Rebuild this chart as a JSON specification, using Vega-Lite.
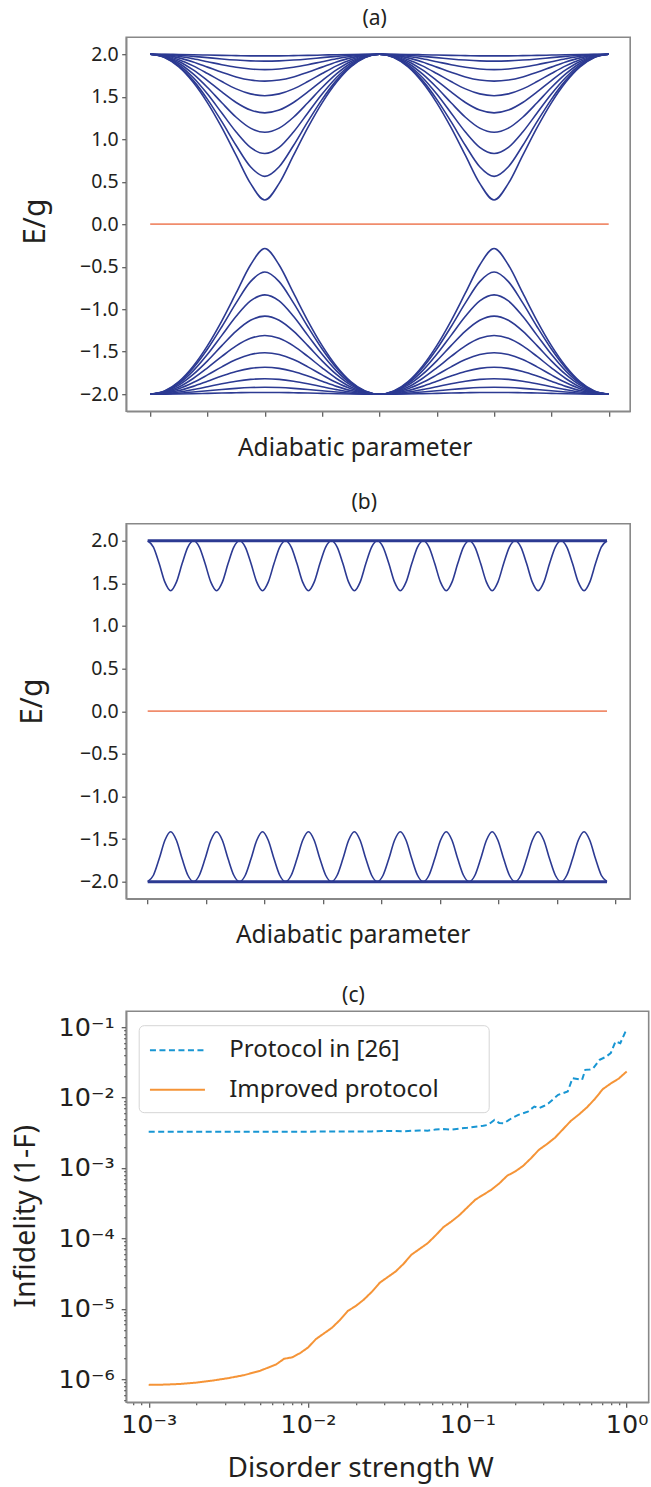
{
"$schema":"https://vega.github.io/schema/vega-lite/v6.json",
"background":"white",
"padding":{"left":10.2,"top":7.2,"right":0,"bottom":0},
"bounds":"flush",
"spacing":112.5,
"config":{
"font":"Noto Sans",
"view":{"stroke":"#888888","strokeWidth":1.6},
"axis":{"grid":false,"domainColor":"#888888","domainWidth":1.6,"tickColor":"#555555","tickWidth":1.2,"labelColor":"#231f20","titleColor":"#231f20","labelFont":"Noto Sans","titleFont":"Noto Sans","titleFontWeight":"normal","labelFlush":false,"labelOverlap":false},
"title":{"font":"Noto Sans","fontWeight":"normal","color":"#231f20","fontSize":21}
},
"datasets":{
"a":[
{"c":1,"i":0,"E":2},{"c":1,"i":1,"E":1.999},{"c":1,"i":2,"E":1.997},{"c":1,"i":3,"E":1.994},{"c":1,"i":4,"E":1.99},{"c":1,"i":5,"E":1.986},{"c":1,"i":6,"E":1.983},{"c":1,"i":7,"E":1.98},{"c":1,"i":8,"E":1.98},{"c":1,"i":9,"E":1.98},{"c":1,"i":10,"E":1.983},{"c":1,"i":11,"E":1.986},{"c":1,"i":12,"E":1.99},{"c":1,"i":13,"E":1.994},{"c":1,"i":14,"E":1.997},{"c":1,"i":15,"E":1.999},{"c":1,"i":16,"E":2},{"c":1,"i":17,"E":1.999},{"c":1,"i":18,"E":1.997},{"c":1,"i":19,"E":1.994},{"c":1,"i":20,"E":1.99},{"c":1,"i":21,"E":1.986},{"c":1,"i":22,"E":1.983},{"c":1,"i":23,"E":1.98},{"c":1,"i":24,"E":1.98},{"c":1,"i":25,"E":1.98},{"c":1,"i":26,"E":1.983},{"c":1,"i":27,"E":1.986},{"c":1,"i":28,"E":1.99},{"c":1,"i":29,"E":1.994},{"c":1,"i":30,"E":1.997},{"c":1,"i":31,"E":1.999},{"c":1,"i":32,"E":2},
{"c":2,"i":0,"E":2},{"c":2,"i":1,"E":1.997},{"c":2,"i":2,"E":1.988},{"c":2,"i":3,"E":1.975},{"c":2,"i":4,"E":1.96},{"c":2,"i":5,"E":1.944},{"c":2,"i":6,"E":1.931},{"c":2,"i":7,"E":1.922},{"c":2,"i":8,"E":1.919},{"c":2,"i":9,"E":1.922},{"c":2,"i":10,"E":1.931},{"c":2,"i":11,"E":1.944},{"c":2,"i":12,"E":1.96},{"c":2,"i":13,"E":1.975},{"c":2,"i":14,"E":1.988},{"c":2,"i":15,"E":1.997},{"c":2,"i":16,"E":2},{"c":2,"i":17,"E":1.997},{"c":2,"i":18,"E":1.988},{"c":2,"i":19,"E":1.975},{"c":2,"i":20,"E":1.96},{"c":2,"i":21,"E":1.944},{"c":2,"i":22,"E":1.931},{"c":2,"i":23,"E":1.922},{"c":2,"i":24,"E":1.919},{"c":2,"i":25,"E":1.922},{"c":2,"i":26,"E":1.931},{"c":2,"i":27,"E":1.944},{"c":2,"i":28,"E":1.96},{"c":2,"i":29,"E":1.975},{"c":2,"i":30,"E":1.988},{"c":2,"i":31,"E":1.997},{"c":2,"i":32,"E":2},
{"c":3,"i":0,"E":2},{"c":3,"i":1,"E":1.993},{"c":3,"i":2,"E":1.975},{"c":3,"i":3,"E":1.946},{"c":3,"i":4,"E":1.912},{"c":3,"i":5,"E":1.877},{"c":3,"i":6,"E":1.847},{"c":3,"i":7,"E":1.826},{"c":3,"i":8,"E":1.819},{"c":3,"i":9,"E":1.826},{"c":3,"i":10,"E":1.847},{"c":3,"i":11,"E":1.877},{"c":3,"i":12,"E":1.912},{"c":3,"i":13,"E":1.946},{"c":3,"i":14,"E":1.975},{"c":3,"i":15,"E":1.993},{"c":3,"i":16,"E":2},{"c":3,"i":17,"E":1.993},{"c":3,"i":18,"E":1.975},{"c":3,"i":19,"E":1.946},{"c":3,"i":20,"E":1.912},{"c":3,"i":21,"E":1.877},{"c":3,"i":22,"E":1.847},{"c":3,"i":23,"E":1.826},{"c":3,"i":24,"E":1.819},{"c":3,"i":25,"E":1.826},{"c":3,"i":26,"E":1.847},{"c":3,"i":27,"E":1.877},{"c":3,"i":28,"E":1.912},{"c":3,"i":29,"E":1.946},{"c":3,"i":30,"E":1.975},{"c":3,"i":31,"E":1.993},{"c":3,"i":32,"E":2},
{"c":4,"i":0,"E":2},{"c":4,"i":1,"E":1.989},{"c":4,"i":2,"E":1.957},{"c":4,"i":3,"E":1.908},{"c":4,"i":4,"E":1.848},{"c":4,"i":5,"E":1.787},{"c":4,"i":6,"E":1.733},{"c":4,"i":7,"E":1.696},{"c":4,"i":8,"E":1.683},{"c":4,"i":9,"E":1.696},{"c":4,"i":10,"E":1.733},{"c":4,"i":11,"E":1.787},{"c":4,"i":12,"E":1.848},{"c":4,"i":13,"E":1.908},{"c":4,"i":14,"E":1.957},{"c":4,"i":15,"E":1.989},{"c":4,"i":16,"E":2},{"c":4,"i":17,"E":1.989},{"c":4,"i":18,"E":1.957},{"c":4,"i":19,"E":1.908},{"c":4,"i":20,"E":1.848},{"c":4,"i":21,"E":1.787},{"c":4,"i":22,"E":1.733},{"c":4,"i":23,"E":1.696},{"c":4,"i":24,"E":1.683},{"c":4,"i":25,"E":1.696},{"c":4,"i":26,"E":1.733},{"c":4,"i":27,"E":1.787},{"c":4,"i":28,"E":1.848},{"c":4,"i":29,"E":1.908},{"c":4,"i":30,"E":1.957},{"c":4,"i":31,"E":1.989},{"c":4,"i":32,"E":2},
{"c":5,"i":0,"E":2},{"c":5,"i":1,"E":1.984},{"c":5,"i":2,"E":1.936},{"c":5,"i":3,"E":1.863},{"c":5,"i":4,"E":1.773},{"c":5,"i":5,"E":1.678},{"c":5,"i":6,"E":1.592},{"c":5,"i":7,"E":1.533},{"c":5,"i":8,"E":1.512},{"c":5,"i":9,"E":1.533},{"c":5,"i":10,"E":1.592},{"c":5,"i":11,"E":1.678},{"c":5,"i":12,"E":1.773},{"c":5,"i":13,"E":1.863},{"c":5,"i":14,"E":1.936},{"c":5,"i":15,"E":1.984},{"c":5,"i":16,"E":2},{"c":5,"i":17,"E":1.984},{"c":5,"i":18,"E":1.936},{"c":5,"i":19,"E":1.863},{"c":5,"i":20,"E":1.773},{"c":5,"i":21,"E":1.678},{"c":5,"i":22,"E":1.592},{"c":5,"i":23,"E":1.533},{"c":5,"i":24,"E":1.512},{"c":5,"i":25,"E":1.533},{"c":5,"i":26,"E":1.592},{"c":5,"i":27,"E":1.678},{"c":5,"i":28,"E":1.773},{"c":5,"i":29,"E":1.863},{"c":5,"i":30,"E":1.936},{"c":5,"i":31,"E":1.984},{"c":5,"i":32,"E":2},
{"c":6,"i":0,"E":2},{"c":6,"i":1,"E":1.978},{"c":6,"i":2,"E":1.915},{"c":6,"i":3,"E":1.815},{"c":6,"i":4,"E":1.69},{"c":6,"i":5,"E":1.556},{"c":6,"i":6,"E":1.432},{"c":6,"i":7,"E":1.343},{"c":6,"i":8,"E":1.31},{"c":6,"i":9,"E":1.343},{"c":6,"i":10,"E":1.432},{"c":6,"i":11,"E":1.556},{"c":6,"i":12,"E":1.69},{"c":6,"i":13,"E":1.815},{"c":6,"i":14,"E":1.915},{"c":6,"i":15,"E":1.978},{"c":6,"i":16,"E":2},{"c":6,"i":17,"E":1.978},{"c":6,"i":18,"E":1.915},{"c":6,"i":19,"E":1.815},{"c":6,"i":20,"E":1.69},{"c":6,"i":21,"E":1.556},{"c":6,"i":22,"E":1.432},{"c":6,"i":23,"E":1.343},{"c":6,"i":24,"E":1.31},{"c":6,"i":25,"E":1.343},{"c":6,"i":26,"E":1.432},{"c":6,"i":27,"E":1.556},{"c":6,"i":28,"E":1.69},{"c":6,"i":29,"E":1.815},{"c":6,"i":30,"E":1.915},{"c":6,"i":31,"E":1.978},{"c":6,"i":32,"E":2},
{"c":7,"i":0,"E":2},{"c":7,"i":1,"E":1.973},{"c":7,"i":2,"E":1.894},{"c":7,"i":3,"E":1.768},{"c":7,"i":4,"E":1.608},{"c":7,"i":5,"E":1.429},{"c":7,"i":6,"E":1.258},{"c":7,"i":7,"E":1.13},{"c":7,"i":8,"E":1.081},{"c":7,"i":9,"E":1.13},{"c":7,"i":10,"E":1.258},{"c":7,"i":11,"E":1.429},{"c":7,"i":12,"E":1.608},{"c":7,"i":13,"E":1.768},{"c":7,"i":14,"E":1.894},{"c":7,"i":15,"E":1.973},{"c":7,"i":16,"E":2},{"c":7,"i":17,"E":1.973},{"c":7,"i":18,"E":1.894},{"c":7,"i":19,"E":1.768},{"c":7,"i":20,"E":1.608},{"c":7,"i":21,"E":1.429},{"c":7,"i":22,"E":1.258},{"c":7,"i":23,"E":1.13},{"c":7,"i":24,"E":1.081},{"c":7,"i":25,"E":1.13},{"c":7,"i":26,"E":1.258},{"c":7,"i":27,"E":1.429},{"c":7,"i":28,"E":1.608},{"c":7,"i":29,"E":1.768},{"c":7,"i":30,"E":1.894},{"c":7,"i":31,"E":1.973},{"c":7,"i":32,"E":2},
{"c":8,"i":0,"E":2},{"c":8,"i":1,"E":1.968},{"c":8,"i":2,"E":1.875},{"c":8,"i":3,"E":1.726},{"c":8,"i":4,"E":1.531},{"c":8,"i":5,"E":1.308},{"c":8,"i":6,"E":1.084},{"c":8,"i":7,"E":0.903},{"c":8,"i":8,"E":0.831},{"c":8,"i":9,"E":0.903},{"c":8,"i":10,"E":1.084},{"c":8,"i":11,"E":1.308},{"c":8,"i":12,"E":1.531},{"c":8,"i":13,"E":1.726},{"c":8,"i":14,"E":1.875},{"c":8,"i":15,"E":1.968},{"c":8,"i":16,"E":2},{"c":8,"i":17,"E":1.968},{"c":8,"i":18,"E":1.875},{"c":8,"i":19,"E":1.726},{"c":8,"i":20,"E":1.531},{"c":8,"i":21,"E":1.308},{"c":8,"i":22,"E":1.084},{"c":8,"i":23,"E":0.903},{"c":8,"i":24,"E":0.831},{"c":8,"i":25,"E":0.903},{"c":8,"i":26,"E":1.084},{"c":8,"i":27,"E":1.308},{"c":8,"i":28,"E":1.531},{"c":8,"i":29,"E":1.726},{"c":8,"i":30,"E":1.875},{"c":8,"i":31,"E":1.968},{"c":8,"i":32,"E":2},
{"c":9,"i":0,"E":2},{"c":9,"i":1,"E":1.965},{"c":9,"i":2,"E":1.86},{"c":9,"i":3,"E":1.692},{"c":9,"i":4,"E":1.469},{"c":9,"i":5,"E":1.206},{"c":9,"i":6,"E":0.926},{"c":9,"i":7,"E":0.676},{"c":9,"i":8,"E":0.563},{"c":9,"i":9,"E":0.676},{"c":9,"i":10,"E":0.926},{"c":9,"i":11,"E":1.206},{"c":9,"i":12,"E":1.469},{"c":9,"i":13,"E":1.692},{"c":9,"i":14,"E":1.86},{"c":9,"i":15,"E":1.965},{"c":9,"i":16,"E":2},{"c":9,"i":17,"E":1.965},{"c":9,"i":18,"E":1.86},{"c":9,"i":19,"E":1.692},{"c":9,"i":20,"E":1.469},{"c":9,"i":21,"E":1.206},{"c":9,"i":22,"E":0.926},{"c":9,"i":23,"E":0.676},{"c":9,"i":24,"E":0.563},{"c":9,"i":25,"E":0.676},{"c":9,"i":26,"E":0.926},{"c":9,"i":27,"E":1.206},{"c":9,"i":28,"E":1.469},{"c":9,"i":29,"E":1.692},{"c":9,"i":30,"E":1.86},{"c":9,"i":31,"E":1.965},{"c":9,"i":32,"E":2},
{"c":10,"i":0,"E":2},{"c":10,"i":1,"E":1.962},{"c":10,"i":2,"E":1.851},{"c":10,"i":3,"E":1.67},{"c":10,"i":4,"E":1.428},{"c":10,"i":5,"E":1.136},{"c":10,"i":6,"E":0.809},{"c":10,"i":7,"E":0.48},{"c":10,"i":8,"E":0.285},{"c":10,"i":9,"E":0.48},{"c":10,"i":10,"E":0.809},{"c":10,"i":11,"E":1.136},{"c":10,"i":12,"E":1.428},{"c":10,"i":13,"E":1.67},{"c":10,"i":14,"E":1.851},{"c":10,"i":15,"E":1.962},{"c":10,"i":16,"E":2},{"c":10,"i":17,"E":1.962},{"c":10,"i":18,"E":1.851},{"c":10,"i":19,"E":1.67},{"c":10,"i":20,"E":1.428},{"c":10,"i":21,"E":1.136},{"c":10,"i":22,"E":0.809},{"c":10,"i":23,"E":0.48},{"c":10,"i":24,"E":0.285},{"c":10,"i":25,"E":0.48},{"c":10,"i":26,"E":0.809},{"c":10,"i":27,"E":1.136},{"c":10,"i":28,"E":1.428},{"c":10,"i":29,"E":1.67},{"c":10,"i":30,"E":1.851},{"c":10,"i":31,"E":1.962},{"c":10,"i":32,"E":2},
{"c":-1,"i":0,"E":-2},{"c":-1,"i":1,"E":-1.999},{"c":-1,"i":2,"E":-1.997},{"c":-1,"i":3,"E":-1.994},{"c":-1,"i":4,"E":-1.99},{"c":-1,"i":5,"E":-1.986},{"c":-1,"i":6,"E":-1.983},{"c":-1,"i":7,"E":-1.98},{"c":-1,"i":8,"E":-1.98},{"c":-1,"i":9,"E":-1.98},{"c":-1,"i":10,"E":-1.983},{"c":-1,"i":11,"E":-1.986},{"c":-1,"i":12,"E":-1.99},{"c":-1,"i":13,"E":-1.994},{"c":-1,"i":14,"E":-1.997},{"c":-1,"i":15,"E":-1.999},{"c":-1,"i":16,"E":-2},{"c":-1,"i":17,"E":-1.999},{"c":-1,"i":18,"E":-1.997},{"c":-1,"i":19,"E":-1.994},{"c":-1,"i":20,"E":-1.99},{"c":-1,"i":21,"E":-1.986},{"c":-1,"i":22,"E":-1.983},{"c":-1,"i":23,"E":-1.98},{"c":-1,"i":24,"E":-1.98},{"c":-1,"i":25,"E":-1.98},{"c":-1,"i":26,"E":-1.983},{"c":-1,"i":27,"E":-1.986},{"c":-1,"i":28,"E":-1.99},{"c":-1,"i":29,"E":-1.994},{"c":-1,"i":30,"E":-1.997},{"c":-1,"i":31,"E":-1.999},{"c":-1,"i":32,"E":-2},
{"c":-2,"i":0,"E":-2},{"c":-2,"i":1,"E":-1.997},{"c":-2,"i":2,"E":-1.988},{"c":-2,"i":3,"E":-1.975},{"c":-2,"i":4,"E":-1.96},{"c":-2,"i":5,"E":-1.944},{"c":-2,"i":6,"E":-1.931},{"c":-2,"i":7,"E":-1.922},{"c":-2,"i":8,"E":-1.919},{"c":-2,"i":9,"E":-1.922},{"c":-2,"i":10,"E":-1.931},{"c":-2,"i":11,"E":-1.944},{"c":-2,"i":12,"E":-1.96},{"c":-2,"i":13,"E":-1.975},{"c":-2,"i":14,"E":-1.988},{"c":-2,"i":15,"E":-1.997},{"c":-2,"i":16,"E":-2},{"c":-2,"i":17,"E":-1.997},{"c":-2,"i":18,"E":-1.988},{"c":-2,"i":19,"E":-1.975},{"c":-2,"i":20,"E":-1.96},{"c":-2,"i":21,"E":-1.944},{"c":-2,"i":22,"E":-1.931},{"c":-2,"i":23,"E":-1.922},{"c":-2,"i":24,"E":-1.919},{"c":-2,"i":25,"E":-1.922},{"c":-2,"i":26,"E":-1.931},{"c":-2,"i":27,"E":-1.944},{"c":-2,"i":28,"E":-1.96},{"c":-2,"i":29,"E":-1.975},{"c":-2,"i":30,"E":-1.988},{"c":-2,"i":31,"E":-1.997},{"c":-2,"i":32,"E":-2},
{"c":-3,"i":0,"E":-2},{"c":-3,"i":1,"E":-1.993},{"c":-3,"i":2,"E":-1.975},{"c":-3,"i":3,"E":-1.946},{"c":-3,"i":4,"E":-1.912},{"c":-3,"i":5,"E":-1.877},{"c":-3,"i":6,"E":-1.847},{"c":-3,"i":7,"E":-1.826},{"c":-3,"i":8,"E":-1.819},{"c":-3,"i":9,"E":-1.826},{"c":-3,"i":10,"E":-1.847},{"c":-3,"i":11,"E":-1.877},{"c":-3,"i":12,"E":-1.912},{"c":-3,"i":13,"E":-1.946},{"c":-3,"i":14,"E":-1.975},{"c":-3,"i":15,"E":-1.993},{"c":-3,"i":16,"E":-2},{"c":-3,"i":17,"E":-1.993},{"c":-3,"i":18,"E":-1.975},{"c":-3,"i":19,"E":-1.946},{"c":-3,"i":20,"E":-1.912},{"c":-3,"i":21,"E":-1.877},{"c":-3,"i":22,"E":-1.847},{"c":-3,"i":23,"E":-1.826},{"c":-3,"i":24,"E":-1.819},{"c":-3,"i":25,"E":-1.826},{"c":-3,"i":26,"E":-1.847},{"c":-3,"i":27,"E":-1.877},{"c":-3,"i":28,"E":-1.912},{"c":-3,"i":29,"E":-1.946},{"c":-3,"i":30,"E":-1.975},{"c":-3,"i":31,"E":-1.993},{"c":-3,"i":32,"E":-2},
{"c":-4,"i":0,"E":-2},{"c":-4,"i":1,"E":-1.989},{"c":-4,"i":2,"E":-1.957},{"c":-4,"i":3,"E":-1.908},{"c":-4,"i":4,"E":-1.848},{"c":-4,"i":5,"E":-1.787},{"c":-4,"i":6,"E":-1.733},{"c":-4,"i":7,"E":-1.696},{"c":-4,"i":8,"E":-1.683},{"c":-4,"i":9,"E":-1.696},{"c":-4,"i":10,"E":-1.733},{"c":-4,"i":11,"E":-1.787},{"c":-4,"i":12,"E":-1.848},{"c":-4,"i":13,"E":-1.908},{"c":-4,"i":14,"E":-1.957},{"c":-4,"i":15,"E":-1.989},{"c":-4,"i":16,"E":-2},{"c":-4,"i":17,"E":-1.989},{"c":-4,"i":18,"E":-1.957},{"c":-4,"i":19,"E":-1.908},{"c":-4,"i":20,"E":-1.848},{"c":-4,"i":21,"E":-1.787},{"c":-4,"i":22,"E":-1.733},{"c":-4,"i":23,"E":-1.696},{"c":-4,"i":24,"E":-1.683},{"c":-4,"i":25,"E":-1.696},{"c":-4,"i":26,"E":-1.733},{"c":-4,"i":27,"E":-1.787},{"c":-4,"i":28,"E":-1.848},{"c":-4,"i":29,"E":-1.908},{"c":-4,"i":30,"E":-1.957},{"c":-4,"i":31,"E":-1.989},{"c":-4,"i":32,"E":-2},
{"c":-5,"i":0,"E":-2},{"c":-5,"i":1,"E":-1.984},{"c":-5,"i":2,"E":-1.936},{"c":-5,"i":3,"E":-1.863},{"c":-5,"i":4,"E":-1.773},{"c":-5,"i":5,"E":-1.678},{"c":-5,"i":6,"E":-1.592},{"c":-5,"i":7,"E":-1.533},{"c":-5,"i":8,"E":-1.512},{"c":-5,"i":9,"E":-1.533},{"c":-5,"i":10,"E":-1.592},{"c":-5,"i":11,"E":-1.678},{"c":-5,"i":12,"E":-1.773},{"c":-5,"i":13,"E":-1.863},{"c":-5,"i":14,"E":-1.936},{"c":-5,"i":15,"E":-1.984},{"c":-5,"i":16,"E":-2},{"c":-5,"i":17,"E":-1.984},{"c":-5,"i":18,"E":-1.936},{"c":-5,"i":19,"E":-1.863},{"c":-5,"i":20,"E":-1.773},{"c":-5,"i":21,"E":-1.678},{"c":-5,"i":22,"E":-1.592},{"c":-5,"i":23,"E":-1.533},{"c":-5,"i":24,"E":-1.512},{"c":-5,"i":25,"E":-1.533},{"c":-5,"i":26,"E":-1.592},{"c":-5,"i":27,"E":-1.678},{"c":-5,"i":28,"E":-1.773},{"c":-5,"i":29,"E":-1.863},{"c":-5,"i":30,"E":-1.936},{"c":-5,"i":31,"E":-1.984},{"c":-5,"i":32,"E":-2},
{"c":-6,"i":0,"E":-2},{"c":-6,"i":1,"E":-1.978},{"c":-6,"i":2,"E":-1.915},{"c":-6,"i":3,"E":-1.815},{"c":-6,"i":4,"E":-1.69},{"c":-6,"i":5,"E":-1.556},{"c":-6,"i":6,"E":-1.432},{"c":-6,"i":7,"E":-1.343},{"c":-6,"i":8,"E":-1.31},{"c":-6,"i":9,"E":-1.343},{"c":-6,"i":10,"E":-1.432},{"c":-6,"i":11,"E":-1.556},{"c":-6,"i":12,"E":-1.69},{"c":-6,"i":13,"E":-1.815},{"c":-6,"i":14,"E":-1.915},{"c":-6,"i":15,"E":-1.978},{"c":-6,"i":16,"E":-2},{"c":-6,"i":17,"E":-1.978},{"c":-6,"i":18,"E":-1.915},{"c":-6,"i":19,"E":-1.815},{"c":-6,"i":20,"E":-1.69},{"c":-6,"i":21,"E":-1.556},{"c":-6,"i":22,"E":-1.432},{"c":-6,"i":23,"E":-1.343},{"c":-6,"i":24,"E":-1.31},{"c":-6,"i":25,"E":-1.343},{"c":-6,"i":26,"E":-1.432},{"c":-6,"i":27,"E":-1.556},{"c":-6,"i":28,"E":-1.69},{"c":-6,"i":29,"E":-1.815},{"c":-6,"i":30,"E":-1.915},{"c":-6,"i":31,"E":-1.978},{"c":-6,"i":32,"E":-2},
{"c":-7,"i":0,"E":-2},{"c":-7,"i":1,"E":-1.973},{"c":-7,"i":2,"E":-1.894},{"c":-7,"i":3,"E":-1.768},{"c":-7,"i":4,"E":-1.608},{"c":-7,"i":5,"E":-1.429},{"c":-7,"i":6,"E":-1.258},{"c":-7,"i":7,"E":-1.13},{"c":-7,"i":8,"E":-1.081},{"c":-7,"i":9,"E":-1.13},{"c":-7,"i":10,"E":-1.258},{"c":-7,"i":11,"E":-1.429},{"c":-7,"i":12,"E":-1.608},{"c":-7,"i":13,"E":-1.768},{"c":-7,"i":14,"E":-1.894},{"c":-7,"i":15,"E":-1.973},{"c":-7,"i":16,"E":-2},{"c":-7,"i":17,"E":-1.973},{"c":-7,"i":18,"E":-1.894},{"c":-7,"i":19,"E":-1.768},{"c":-7,"i":20,"E":-1.608},{"c":-7,"i":21,"E":-1.429},{"c":-7,"i":22,"E":-1.258},{"c":-7,"i":23,"E":-1.13},{"c":-7,"i":24,"E":-1.081},{"c":-7,"i":25,"E":-1.13},{"c":-7,"i":26,"E":-1.258},{"c":-7,"i":27,"E":-1.429},{"c":-7,"i":28,"E":-1.608},{"c":-7,"i":29,"E":-1.768},{"c":-7,"i":30,"E":-1.894},{"c":-7,"i":31,"E":-1.973},{"c":-7,"i":32,"E":-2},
{"c":-8,"i":0,"E":-2},{"c":-8,"i":1,"E":-1.968},{"c":-8,"i":2,"E":-1.875},{"c":-8,"i":3,"E":-1.726},{"c":-8,"i":4,"E":-1.531},{"c":-8,"i":5,"E":-1.308},{"c":-8,"i":6,"E":-1.084},{"c":-8,"i":7,"E":-0.903},{"c":-8,"i":8,"E":-0.831},{"c":-8,"i":9,"E":-0.903},{"c":-8,"i":10,"E":-1.084},{"c":-8,"i":11,"E":-1.308},{"c":-8,"i":12,"E":-1.531},{"c":-8,"i":13,"E":-1.726},{"c":-8,"i":14,"E":-1.875},{"c":-8,"i":15,"E":-1.968},{"c":-8,"i":16,"E":-2},{"c":-8,"i":17,"E":-1.968},{"c":-8,"i":18,"E":-1.875},{"c":-8,"i":19,"E":-1.726},{"c":-8,"i":20,"E":-1.531},{"c":-8,"i":21,"E":-1.308},{"c":-8,"i":22,"E":-1.084},{"c":-8,"i":23,"E":-0.903},{"c":-8,"i":24,"E":-0.831},{"c":-8,"i":25,"E":-0.903},{"c":-8,"i":26,"E":-1.084},{"c":-8,"i":27,"E":-1.308},{"c":-8,"i":28,"E":-1.531},{"c":-8,"i":29,"E":-1.726},{"c":-8,"i":30,"E":-1.875},{"c":-8,"i":31,"E":-1.968},{"c":-8,"i":32,"E":-2},
{"c":-9,"i":0,"E":-2},{"c":-9,"i":1,"E":-1.965},{"c":-9,"i":2,"E":-1.86},{"c":-9,"i":3,"E":-1.692},{"c":-9,"i":4,"E":-1.469},{"c":-9,"i":5,"E":-1.206},{"c":-9,"i":6,"E":-0.926},{"c":-9,"i":7,"E":-0.676},{"c":-9,"i":8,"E":-0.563},{"c":-9,"i":9,"E":-0.676},{"c":-9,"i":10,"E":-0.926},{"c":-9,"i":11,"E":-1.206},{"c":-9,"i":12,"E":-1.469},{"c":-9,"i":13,"E":-1.692},{"c":-9,"i":14,"E":-1.86},{"c":-9,"i":15,"E":-1.965},{"c":-9,"i":16,"E":-2},{"c":-9,"i":17,"E":-1.965},{"c":-9,"i":18,"E":-1.86},{"c":-9,"i":19,"E":-1.692},{"c":-9,"i":20,"E":-1.469},{"c":-9,"i":21,"E":-1.206},{"c":-9,"i":22,"E":-0.926},{"c":-9,"i":23,"E":-0.676},{"c":-9,"i":24,"E":-0.563},{"c":-9,"i":25,"E":-0.676},{"c":-9,"i":26,"E":-0.926},{"c":-9,"i":27,"E":-1.206},{"c":-9,"i":28,"E":-1.469},{"c":-9,"i":29,"E":-1.692},{"c":-9,"i":30,"E":-1.86},{"c":-9,"i":31,"E":-1.965},{"c":-9,"i":32,"E":-2},
{"c":-10,"i":0,"E":-2},{"c":-10,"i":1,"E":-1.962},{"c":-10,"i":2,"E":-1.851},{"c":-10,"i":3,"E":-1.67},{"c":-10,"i":4,"E":-1.428},{"c":-10,"i":5,"E":-1.136},{"c":-10,"i":6,"E":-0.809},{"c":-10,"i":7,"E":-0.48},{"c":-10,"i":8,"E":-0.285},{"c":-10,"i":9,"E":-0.48},{"c":-10,"i":10,"E":-0.809},{"c":-10,"i":11,"E":-1.136},{"c":-10,"i":12,"E":-1.428},{"c":-10,"i":13,"E":-1.67},{"c":-10,"i":14,"E":-1.851},{"c":-10,"i":15,"E":-1.962},{"c":-10,"i":16,"E":-2},{"c":-10,"i":17,"E":-1.962},{"c":-10,"i":18,"E":-1.851},{"c":-10,"i":19,"E":-1.67},{"c":-10,"i":20,"E":-1.428},{"c":-10,"i":21,"E":-1.136},{"c":-10,"i":22,"E":-0.809},{"c":-10,"i":23,"E":-0.48},{"c":-10,"i":24,"E":-0.285},{"c":-10,"i":25,"E":-0.48},{"c":-10,"i":26,"E":-0.809},{"c":-10,"i":27,"E":-1.136},{"c":-10,"i":28,"E":-1.428},{"c":-10,"i":29,"E":-1.67},{"c":-10,"i":30,"E":-1.851},{"c":-10,"i":31,"E":-1.962},{"c":-10,"i":32,"E":-2}
],
"a0":[{"i":0,"E":0},{"i":32,"E":0}],
"b":[
{"c":"u","x":0,"E":2},{"c":"u","x":0.0196,"E":1.925},{"c":"u","x":0.0393,"E":1.732},{"c":"u","x":0.0589,"E":1.514},{"c":"u","x":0.0785,"E":1.414},{"c":"u","x":0.0982,"E":1.514},{"c":"u","x":0.1178,"E":1.732},{"c":"u","x":0.1374,"E":1.925},{"c":"u","x":0.1571,"E":2},{"c":"u","x":0.1767,"E":1.925},{"c":"u","x":0.1963,"E":1.732},{"c":"u","x":0.216,"E":1.514},{"c":"u","x":0.2356,"E":1.414},{"c":"u","x":0.2553,"E":1.514},{"c":"u","x":0.2749,"E":1.732},{"c":"u","x":0.2945,"E":1.925},{"c":"u","x":0.3142,"E":2},{"c":"u","x":0.3338,"E":1.925},{"c":"u","x":0.3534,"E":1.732},{"c":"u","x":0.3731,"E":1.514},{"c":"u","x":0.3927,"E":1.414},{"c":"u","x":0.4123,"E":1.514},{"c":"u","x":0.432,"E":1.732},{"c":"u","x":0.4516,"E":1.925},{"c":"u","x":0.4712,"E":2},{"c":"u","x":0.4909,"E":1.925},{"c":"u","x":0.5105,"E":1.732},{"c":"u","x":0.5301,"E":1.514},{"c":"u","x":0.5498,"E":1.414},{"c":"u","x":0.5694,"E":1.514},{"c":"u","x":0.589,"E":1.732},{"c":"u","x":0.6087,"E":1.925},{"c":"u","x":0.6283,"E":2},{"c":"u","x":0.648,"E":1.925},{"c":"u","x":0.6676,"E":1.732},{"c":"u","x":0.6872,"E":1.514},{"c":"u","x":0.7069,"E":1.414},{"c":"u","x":0.7265,"E":1.514},{"c":"u","x":0.7461,"E":1.732},{"c":"u","x":0.7658,"E":1.925},{"c":"u","x":0.7854,"E":2},{"c":"u","x":0.805,"E":1.925},{"c":"u","x":0.8247,"E":1.732},{"c":"u","x":0.8443,"E":1.514},{"c":"u","x":0.8639,"E":1.414},{"c":"u","x":0.8836,"E":1.514},{"c":"u","x":0.9032,"E":1.732},{"c":"u","x":0.9228,"E":1.925},{"c":"u","x":0.9425,"E":2},{"c":"u","x":0.9621,"E":1.925},{"c":"u","x":0.9817,"E":1.732},{"c":"u","x":1.0014,"E":1.514},{"c":"u","x":1.021,"E":1.414},{"c":"u","x":1.0407,"E":1.514},{"c":"u","x":1.0603,"E":1.732},{"c":"u","x":1.0799,"E":1.925},{"c":"u","x":1.0996,"E":2},{"c":"u","x":1.1192,"E":1.925},{"c":"u","x":1.1388,"E":1.732},{"c":"u","x":1.1585,"E":1.514},{"c":"u","x":1.1781,"E":1.414},{"c":"u","x":1.1977,"E":1.514},{"c":"u","x":1.2174,"E":1.732},{"c":"u","x":1.237,"E":1.925},{"c":"u","x":1.2566,"E":2},{"c":"u","x":1.2763,"E":1.925},{"c":"u","x":1.2959,"E":1.732},{"c":"u","x":1.3155,"E":1.514},{"c":"u","x":1.3352,"E":1.414},{"c":"u","x":1.3548,"E":1.514},{"c":"u","x":1.3744,"E":1.732},{"c":"u","x":1.3941,"E":1.925},{"c":"u","x":1.4137,"E":2},{"c":"u","x":1.4334,"E":1.925},{"c":"u","x":1.453,"E":1.732},{"c":"u","x":1.4726,"E":1.514},{"c":"u","x":1.4923,"E":1.414},{"c":"u","x":1.5119,"E":1.514},{"c":"u","x":1.5315,"E":1.732},{"c":"u","x":1.5512,"E":1.925},{"c":"u","x":1.5708,"E":2},
{"c":"l","x":0,"E":-2},{"c":"l","x":0.0196,"E":-1.925},{"c":"l","x":0.0393,"E":-1.732},{"c":"l","x":0.0589,"E":-1.514},{"c":"l","x":0.0785,"E":-1.414},{"c":"l","x":0.0982,"E":-1.514},{"c":"l","x":0.1178,"E":-1.732},{"c":"l","x":0.1374,"E":-1.925},{"c":"l","x":0.1571,"E":-2},{"c":"l","x":0.1767,"E":-1.925},{"c":"l","x":0.1963,"E":-1.732},{"c":"l","x":0.216,"E":-1.514},{"c":"l","x":0.2356,"E":-1.414},{"c":"l","x":0.2553,"E":-1.514},{"c":"l","x":0.2749,"E":-1.732},{"c":"l","x":0.2945,"E":-1.925},{"c":"l","x":0.3142,"E":-2},{"c":"l","x":0.3338,"E":-1.925},{"c":"l","x":0.3534,"E":-1.732},{"c":"l","x":0.3731,"E":-1.514},{"c":"l","x":0.3927,"E":-1.414},{"c":"l","x":0.4123,"E":-1.514},{"c":"l","x":0.432,"E":-1.732},{"c":"l","x":0.4516,"E":-1.925},{"c":"l","x":0.4712,"E":-2},{"c":"l","x":0.4909,"E":-1.925},{"c":"l","x":0.5105,"E":-1.732},{"c":"l","x":0.5301,"E":-1.514},{"c":"l","x":0.5498,"E":-1.414},{"c":"l","x":0.5694,"E":-1.514},{"c":"l","x":0.589,"E":-1.732},{"c":"l","x":0.6087,"E":-1.925},{"c":"l","x":0.6283,"E":-2},{"c":"l","x":0.648,"E":-1.925},{"c":"l","x":0.6676,"E":-1.732},{"c":"l","x":0.6872,"E":-1.514},{"c":"l","x":0.7069,"E":-1.414},{"c":"l","x":0.7265,"E":-1.514},{"c":"l","x":0.7461,"E":-1.732},{"c":"l","x":0.7658,"E":-1.925},{"c":"l","x":0.7854,"E":-2},{"c":"l","x":0.805,"E":-1.925},{"c":"l","x":0.8247,"E":-1.732},{"c":"l","x":0.8443,"E":-1.514},{"c":"l","x":0.8639,"E":-1.414},{"c":"l","x":0.8836,"E":-1.514},{"c":"l","x":0.9032,"E":-1.732},{"c":"l","x":0.9228,"E":-1.925},{"c":"l","x":0.9425,"E":-2},{"c":"l","x":0.9621,"E":-1.925},{"c":"l","x":0.9817,"E":-1.732},{"c":"l","x":1.0014,"E":-1.514},{"c":"l","x":1.021,"E":-1.414},{"c":"l","x":1.0407,"E":-1.514},{"c":"l","x":1.0603,"E":-1.732},{"c":"l","x":1.0799,"E":-1.925},{"c":"l","x":1.0996,"E":-2},{"c":"l","x":1.1192,"E":-1.925},{"c":"l","x":1.1388,"E":-1.732},{"c":"l","x":1.1585,"E":-1.514},{"c":"l","x":1.1781,"E":-1.414},{"c":"l","x":1.1977,"E":-1.514},{"c":"l","x":1.2174,"E":-1.732},{"c":"l","x":1.237,"E":-1.925},{"c":"l","x":1.2566,"E":-2},{"c":"l","x":1.2763,"E":-1.925},{"c":"l","x":1.2959,"E":-1.732},{"c":"l","x":1.3155,"E":-1.514},{"c":"l","x":1.3352,"E":-1.414},{"c":"l","x":1.3548,"E":-1.514},{"c":"l","x":1.3744,"E":-1.732},{"c":"l","x":1.3941,"E":-1.925},{"c":"l","x":1.4137,"E":-2},{"c":"l","x":1.4334,"E":-1.925},{"c":"l","x":1.453,"E":-1.732},{"c":"l","x":1.4726,"E":-1.514},{"c":"l","x":1.4923,"E":-1.414},{"c":"l","x":1.5119,"E":-1.514},{"c":"l","x":1.5315,"E":-1.732},{"c":"l","x":1.5512,"E":-1.925},{"c":"l","x":1.5708,"E":-2}
],
"bf":[{"c":"tu","x":0,"E":2},{"c":"tu","x":1.5708,"E":2},{"c":"tl","x":0,"E":-2},{"c":"tl","x":1.5708,"E":-2}],
"b0":[{"x":0,"E":0},{"x":1.5708,"E":0}],
"c":[
{"s":"Protocol in [26]","W":0.001,"F":0.003266},{"s":"Protocol in [26]","W":0.0031623,"F":0.003266},{"s":"Protocol in [26]","W":0.01,"F":0.003281},{"s":"Protocol in [26]","W":0.025119,"F":0.003311},{"s":"Protocol in [26]","W":0.031623,"F":0.003357},{"s":"Protocol in [26]","W":0.039811,"F":0.003327},{"s":"Protocol in [26]","W":0.050119,"F":0.00342},{"s":"Protocol in [26]","W":0.056234,"F":0.003388},{"s":"Protocol in [26]","W":0.063096,"F":0.003508},{"s":"Protocol in [26]","W":0.070795,"F":0.003565},{"s":"Protocol in [26]","W":0.079433,"F":0.003508},{"s":"Protocol in [26]","W":0.089125,"F":0.003631},{"s":"Protocol in [26]","W":0.1,"F":0.003715},{"s":"Protocol in [26]","W":0.1122,"F":0.003846},{"s":"Protocol in [26]","W":0.12589,"F":0.003981},{"s":"Protocol in [26]","W":0.1349,"F":0.004093},{"s":"Protocol in [26]","W":0.14791,"F":0.004819},{"s":"Protocol in [26]","W":0.15849,"F":0.004365},{"s":"Protocol in [26]","W":0.16982,"F":0.004325},{"s":"Protocol in [26]","W":0.19055,"F":0.005129},{"s":"Protocol in [26]","W":0.20893,"F":0.005675},{"s":"Protocol in [26]","W":0.23988,"F":0.00631},{"s":"Protocol in [26]","W":0.26303,"F":0.007464},{"s":"Protocol in [26]","W":0.28184,"F":0.007063},{"s":"Protocol in [26]","W":0.302,"F":0.007586},{"s":"Protocol in [26]","W":0.32359,"F":0.008318},{"s":"Protocol in [26]","W":0.37154,"F":0.01094},{"s":"Protocol in [26]","W":0.42658,"F":0.01219},{"s":"Protocol in [26]","W":0.45709,"F":0.01888},{"s":"Protocol in [26]","W":0.48978,"F":0.01841},{"s":"Protocol in [26]","W":0.52481,"F":0.01786},{"s":"Protocol in [26]","W":0.54954,"F":0.02477},{"s":"Protocol in [26]","W":0.58884,"F":0.02512},{"s":"Protocol in [26]","W":0.6166,"F":0.02618},{"s":"Protocol in [26]","W":0.67608,"F":0.03436},{"s":"Protocol in [26]","W":0.74131,"F":0.03802},{"s":"Protocol in [26]","W":0.79433,"F":0.04276},{"s":"Protocol in [26]","W":0.85114,"F":0.06266},{"s":"Protocol in [26]","W":0.91201,"F":0.05929},{"s":"Protocol in [26]","W":1,"F":0.09462},
{"s":"Improved protocol","W":0.001,"F":8.299e-7},{"s":"Improved protocol","W":0.0012589,"F":8.375e-7},{"s":"Improved protocol","W":0.0015849,"F":8.551e-7},{"s":"Improved protocol","W":0.0019953,"F":8.954e-7},{"s":"Improved protocol","W":0.0025119,"F":9.55e-7},{"s":"Improved protocol","W":0.0031623,"F":1.035e-6},{"s":"Improved protocol","W":0.0039811,"F":1.143e-6},{"s":"Improved protocol","W":0.0050119,"F":1.318e-6},{"s":"Improved protocol","W":0.0063096,"F":1.622e-6},{"s":"Improved protocol","W":0.0070795,"F":1.95e-6},{"s":"Improved protocol","W":0.0079433,"F":2.042e-6},{"s":"Improved protocol","W":0.0089125,"F":2.344e-6},{"s":"Improved protocol","W":0.01,"F":2.818e-6},{"s":"Improved protocol","W":0.01122,"F":3.715e-6},{"s":"Improved protocol","W":0.012589,"F":4.467e-6},{"s":"Improved protocol","W":0.014125,"F":5.37e-6},{"s":"Improved protocol","W":0.015849,"F":6.918e-6},{"s":"Improved protocol","W":0.017783,"F":9.333e-6},{"s":"Improved protocol","W":0.019953,"F":1.0965e-5},{"s":"Improved protocol","W":0.022387,"F":1.349e-5},{"s":"Improved protocol","W":0.025119,"F":1.738e-5},{"s":"Improved protocol","W":0.028184,"F":2.344e-5},{"s":"Improved protocol","W":0.031623,"F":2.818e-5},{"s":"Improved protocol","W":0.035481,"F":3.388e-5},{"s":"Improved protocol","W":0.039811,"F":4.365e-5},{"s":"Improved protocol","W":0.044668,"F":5.888e-5},{"s":"Improved protocol","W":0.050119,"F":7.079e-5},{"s":"Improved protocol","W":0.056234,"F":8.511e-5},{"s":"Improved protocol","W":0.063096,"F":0.00010965},{"s":"Improved protocol","W":0.070795,"F":0.0001445},{"s":"Improved protocol","W":0.079433,"F":0.0001738},{"s":"Improved protocol","W":0.089125,"F":0.0002138},{"s":"Improved protocol","W":0.1,"F":0.0002754},{"s":"Improved protocol","W":0.1122,"F":0.0003548},{"s":"Improved protocol","W":0.12589,"F":0.0004169},{"s":"Improved protocol","W":0.14125,"F":0.0004898},{"s":"Improved protocol","W":0.15849,"F":0.0006026},{"s":"Improved protocol","W":0.17783,"F":0.0007762},{"s":"Improved protocol","W":0.19953,"F":0.0008913},{"s":"Improved protocol","W":0.22387,"F":0.001072},{"s":"Improved protocol","W":0.25119,"F":0.00138},{"s":"Improved protocol","W":0.28184,"F":0.00182},{"s":"Improved protocol","W":0.31623,"F":0.002188},{"s":"Improved protocol","W":0.35481,"F":0.002692},{"s":"Improved protocol","W":0.39811,"F":0.003548},{"s":"Improved protocol","W":0.44668,"F":0.004677},{"s":"Improved protocol","W":0.50119,"F":0.005754},{"s":"Improved protocol","W":0.56234,"F":0.007244},{"s":"Improved protocol","W":0.63096,"F":0.00955},{"s":"Improved protocol","W":0.70795,"F":0.01318},{"s":"Improved protocol","W":0.79433,"F":0.01585},{"s":"Improved protocol","W":0.89125,"F":0.01862},{"s":"Improved protocol","W":1,"F":0.02344}
]
},
"vconcat":[
{
"width":504,"height":374,
"title":{"text":"(a)","offset":8,"dx":-3.5,"frame":"group","anchor":"middle"},
"layer":[
{"data":{"name":"a"},"mark":{"type":"line","interpolate":"monotone","strokeWidth":1.6,"color":"#2c3a92"},
"encoding":{
"x":{"field":"i","type":"quantitative","scale":{"domain":[-1.675,33.5],"nice":false,"zero":false},"axis":{"values":[0,4,8,12,16,20,24,28,32],"labels":false,"tickSize":5,"title":"Adiabatic parameter","titleFontSize":24.5,"titleX":228.5,"titleY":44,"titleBaseline":"alphabetic","titleAlign":"center"}},
"y":{"field":"E","type":"quantitative","scale":{"domain":[-2.2,2.2],"nice":false,"zero":false},"axis":{"values":[-2,-1.5,-1,-0.5,0,0.5,1,1.5,2],"format":".1f","labelFontSize":19.5,"tickSize":4.5,"labelPadding":3.5,"title":"E/g","titleFontSize":30,"titleX":-81.5,"titleY":184,"titleAngle":-90,"titleAlign":"center","titleBaseline":"alphabetic"}},
"detail":{"field":"c","type":"nominal"}}},
{"data":{"name":"a0"},"mark":{"type":"line","color":"#f08c6c","strokeWidth":1.8},
"encoding":{"x":{"field":"i","type":"quantitative"},"y":{"field":"E","type":"quantitative"}}}
]
},
{
"width":504,"height":375,
"title":{"text":"(b)","offset":11,"dx":-14,"frame":"group","anchor":"middle"},
"layer":[
{"data":{"name":"b"},"mark":{"type":"line","interpolate":"monotone","strokeWidth":1.6,"color":"#2c3a92"},
"encoding":{
"x":{"field":"x","type":"quantitative","scale":{"domain":[-0.0735,1.6501],"nice":false,"zero":false},"axis":{"values":[0,0.2,0.4,0.6,0.8,1,1.2,1.4,1.6],"labels":false,"tickSize":5,"title":"Adiabatic parameter","titleFontSize":24.5,"titleX":226.5,"titleY":43.5,"titleBaseline":"alphabetic","titleAlign":"center"}},
"y":{"field":"E","type":"quantitative","scale":{"domain":[-2.2,2.2],"nice":false,"zero":false},"axis":{"values":[-2,-1.5,-1,-0.5,0,0.5,1,1.5,2],"format":".1f","labelFontSize":19.5,"tickSize":4.5,"labelPadding":3.5,"title":"E/g","titleFontSize":30,"titleX":-84.5,"titleY":177.5,"titleAngle":-90,"titleAlign":"center","titleBaseline":"alphabetic"}},
"detail":{"field":"c","type":"nominal"}}},
{"data":{"name":"bf"},"mark":{"type":"line","strokeWidth":3,"color":"#2c3a92"},
"encoding":{"x":{"field":"x","type":"quantitative"},"y":{"field":"E","type":"quantitative"},"detail":{"field":"c","type":"nominal"}}},
{"data":{"name":"b0"},"mark":{"type":"line","color":"#f08c6c","strokeWidth":1.8},
"encoding":{"x":{"field":"x","type":"quantitative"},"y":{"field":"E","type":"quantitative"}}}
]
},
{
"width":522.5,"height":391,
"title":{"text":"(c)","offset":5,"dx":-34,"frame":"group","anchor":"middle"},
"data":{"name":"c"},
"mark":{"type":"line","strokeWidth":2},
"encoding":{
"x":{"field":"W","type":"quantitative","scale":{"type":"log","domain":[0.0007224,1.3743],"nice":false},
"axis":{"values":[0.0008,0.0009,0.001,0.002,0.003,0.004,0.005,0.006,0.007,0.008,0.009,0.01,0.02,0.03,0.04,0.05,0.06,0.07,0.08,0.09,0.1,0.2,0.3,0.4,0.5,0.6,0.7,0.8,0.9,1],
"labelExpr":"abs(log(datum.value)/LN10 - round(log(datum.value)/LN10)) < 0.001 ? '10' + (round(log(datum.value)/LN10) < 0 ? '⁻' : '') + ['⁰','¹','²','³','⁴','⁵','⁶','⁷'][abs(round(log(datum.value)/LN10))] : ''",
"tickSize":{"condition":{"test":"abs(log(datum.value)/LN10 - round(log(datum.value)/LN10)) < 0.001","value":5},"value":2.5},
"labelFont":"DejaVu Sans","labelFontSize":25.5,"labelPadding":5,
"title":"Disorder strength W","titleFontSize":28,"titleX":234,"titleY":74.3,"titleBaseline":"alphabetic","titleAlign":"center"}},
"y":{"field":"F","type":"quantitative","scale":{"type":"log","domain":[4.713e-7,0.16876],"nice":false},
"axis":{"values":[5e-7,6e-7,7e-7,8e-7,9e-7,1e-6,2e-6,3e-6,4e-6,5e-6,6e-6,7e-6,8e-6,9e-6,1e-5,2e-5,3e-5,4e-5,5e-5,6e-5,7e-5,8e-5,9e-5,0.0001,0.0002,0.0003,0.0004,0.0005,0.0006,0.0007,0.0008,0.0009,0.001,0.002,0.003,0.004,0.005,0.006,0.007,0.008,0.009,0.01,0.02,0.03,0.04,0.05,0.06,0.07,0.08,0.09,0.1],
"labelExpr":"abs(log(datum.value)/LN10 - round(log(datum.value)/LN10)) < 0.001 ? '10' + (round(log(datum.value)/LN10) < 0 ? '⁻' : '') + ['⁰','¹','²','³','⁴','⁵','⁶','⁷'][abs(round(log(datum.value)/LN10))] : ''",
"tickSize":{"condition":{"test":"abs(log(datum.value)/LN10 - round(log(datum.value)/LN10)) < 0.001","value":5},"value":2.5},
"labelFont":"DejaVu Sans","labelFontSize":25.5,"labelPadding":7,
"title":"Infidelity (1-F)","titleFontSize":28.5,"titleX":-92,"titleY":204.6,"titleAngle":-90,"titleAlign":"center","titleBaseline":"alphabetic"}},
"color":{"field":"s","type":"nominal","sort":null,"scale":{"domain":["Protocol in [26]","Improved protocol"],"range":["#1896d3","#f59437"]},
"legend":{"orient":"none","legendX":12.5,"legendY":988,"title":"\u2800\u2800\u2800","titleFont":"DejaVu Sans","titleOrient":"right","titleFontSize":17,"titlePadding":0,"symbolType":"M-2,0L2,0","symbolSize":756.25,"symbolOffset":13.75,"symbolStrokeWidth":2,"labelFont":"Noto Sans","labelFontSize":24,"labelColor":"#231f20","labelOffset":36.75,"rowPadding":12.5,"padding":10,"strokeColor":"#d5d5d5","fillColor":"#ffffff","cornerRadius":5,"labelLimit":400}},
"strokeDash":{"field":"s","type":"nominal","sort":null,"scale":{"domain":["Protocol in [26]","Improved protocol"],"range":[[6,3.5],[1,0]]},
"legend":{"orient":"none","legendX":12.5,"legendY":988,"title":"\u2800\u2800\u2800","titleFont":"DejaVu Sans","titleOrient":"right","titleFontSize":17,"titlePadding":0,"symbolType":"M-2,0L2,0","symbolSize":756.25,"symbolOffset":13.75,"symbolStrokeWidth":2,"labelFont":"Noto Sans","labelFontSize":24,"labelColor":"#231f20","labelOffset":36.75,"rowPadding":12.5,"padding":10,"strokeColor":"#d5d5d5","fillColor":"#ffffff","cornerRadius":5,"labelLimit":400}}
}
}
]
}
